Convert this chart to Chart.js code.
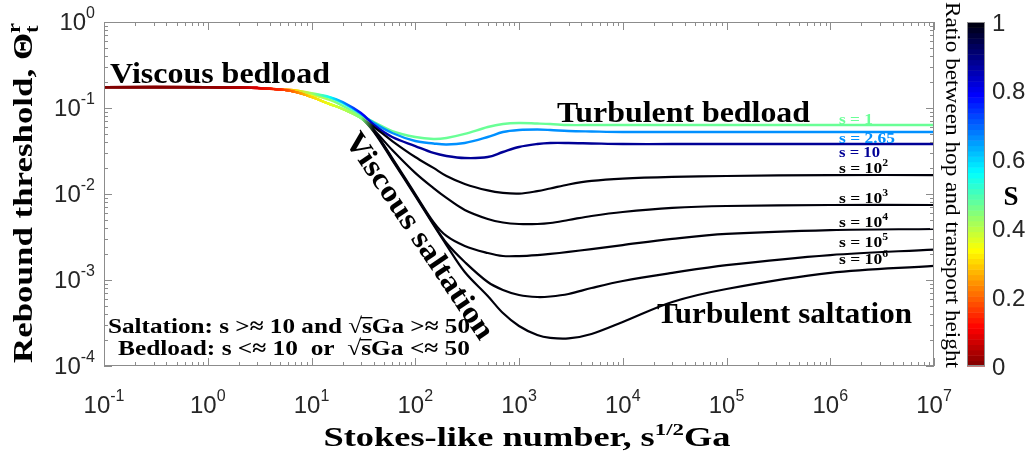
<!DOCTYPE html>
<html>
<head>
<meta charset="utf-8">
<script src="https://cdn.jsdelivr.net/npm/chart.js@4.4.1/dist/chart.umd.min.js"></script>
<style>
  html, body { margin: 0; padding: 0; background: #fff; }
  #wrap { width: 1031px; height: 456px; }
</style>
</head>
<body>
<div id="wrap"><canvas id="chart" width="1031" height="456"></canvas></div>
<script>
// Stokes-like number (x), shared by all curves
const stokesNumber = [0.1, 1, 2, 3, 5, 7, 10, 15, 20, 30, 40, 60, 100, 150, 200, 300, 500, 700,
  1000, 1500, 2000, 3000, 5000, 1e4, 3e4, 1e5, 1e6, 1e7];

// rebound threshold for each density ratio s
const thresholdS1 = [0.175, 0.175, 0.173, 0.171, 0.164, 0.158, 0.142, 0.124, 0.106, 0.0807, 0.0688, 0.0540,
  0.0460, 0.0436, 0.0448, 0.0499, 0.0601, 0.0652, 0.0669, 0.0660, 0.0652, 0.0634, 0.0634, 0.0634, 0.0634,
  0.0634, 0.0634, 0.0634];
const thresholdS265 = [0.175, 0.175, 0.173, 0.171, 0.164, 0.160, 0.147, 0.1325, 0.1143, 0.0852, 0.0669, 0.0512,
  0.0413, 0.0387, 0.0376, 0.0392, 0.0460, 0.0526, 0.0555, 0.0562, 0.0555, 0.0540, 0.0533, 0.0526, 0.0526,
  0.0526, 0.0526, 0.0526];
const thresholdS10 = [0.175, 0.175, 0.173, 0.171, 0.164, 0.160, 0.149, 0.134, 0.1174, 0.0875, 0.0634, 0.0460,
  0.0361, 0.0300, 0.0277, 0.0262, 0.0269, 0.0308, 0.0352, 0.0381, 0.0392, 0.0392, 0.0387, 0.0381, 0.0381,
  0.0381, 0.0381, 0.0381];
const thresholdS1e2 = [0.175, 0.175, 0.173, 0.171, 0.164, 0.1535, 0.134, 0.111, 0.0974, 0.0765, 0.0601, 0.0413,
  0.0269, 0.0201, 0.0162, 0.0131, 0.0110, 0.0103, 0.0101, 0.0108, 0.0116, 0.0129, 0.0142, 0.0151, 0.0158,
  0.0162, 0.0166, 0.0166];
const thresholdS1e3 = [0.175, 0.175, 0.173, 0.171, 0.164, 0.1535, 0.134, 0.111, 0.0974, 0.0765, 0.0555, 0.0325,
  0.0176, 0.0117, 0.0090, 0.00652, 0.00512, 0.00466, 0.00448, 0.00448, 0.00460, 0.00499, 0.00555, 0.00618,
  0.00688, 0.00725, 0.00745, 0.00745];
const thresholdS1e4 = [0.175, 0.175, 0.173, 0.171, 0.164, 0.1535, 0.134, 0.111, 0.0974, 0.0765, 0.0540, 0.0262,
  0.0100, 0.00472, 0.00325, 0.00249, 0.00206, 0.00190, 0.00190, 0.00195, 0.00201, 0.00212, 0.00229, 0.00255,
  0.00300, 0.00343, 0.00381, 0.00392];
const thresholdS1e5 = [0.175, 0.175, 0.173, 0.171, 0.164, 0.1535, 0.134, 0.111, 0.0974, 0.0765, 0.0540, 0.0255,
  0.00973, 0.00448, 0.00269, 0.00162, 0.000948, 0.000766, 0.000670, 0.000634, 0.000643, 0.000688, 0.000807,
  0.000974, 0.00121, 0.00149, 0.00195, 0.00226];
const thresholdS1e6 = [0.175, 0.175, 0.173, 0.171, 0.164, 0.1535, 0.134, 0.111, 0.0974, 0.0765, 0.0526, 0.0248,
  0.00948, 0.00436, 0.00255, 0.00124, 0.000652, 0.000413, 0.000292, 0.000229, 0.000212, 0.000209, 0.000236,
  0.000325, 0.000555, 0.000786, 0.00121, 0.00146];

// ratio between hop and transport height (colour of the curves)
const ratioS1 = [0, 0.01, 0.05, 0.1, 0.2, 0.28, 0.36, 0.43, 0.46, 0.47, 0.47, 0.47, 0.47, 0.47, 0.47, 0.47,
  0.47, 0.47, 0.47, 0.47, 0.47, 0.47, 0.47, 0.47, 0.47, 0.47, 0.47, 0.47];
const ratioS265 = [0, 0.01, 0.05, 0.1, 0.2, 0.3, 0.4, 0.5, 0.57, 0.63, 0.655, 0.66, 0.66, 0.66, 0.66, 0.66,
  0.66, 0.66, 0.66, 0.66, 0.66, 0.66, 0.66, 0.66, 0.66, 0.66, 0.66, 0.66];
const ratioS10 = [0, 0.01, 0.05, 0.1, 0.2, 0.3, 0.42, 0.56, 0.66, 0.78, 0.84, 0.87, 0.88, 0.88, 0.88, 0.88,
  0.88, 0.88, 0.88, 0.88, 0.88, 0.88, 0.88, 0.88, 0.88, 0.88, 0.88, 0.88];
const ratioSaltation = [0, 0.01, 0.04, 0.08, 0.15, 0.22, 0.3, 0.36, 0.4, 0.45, 1, 1, 1, 1, 1, 1,
  1, 1, 1, 1, 1, 1, 1, 1, 1, 1, 1, 1];

// tick labels
const xDecades = [-1, 0, 1, 2, 3, 4, 5, 6, 7];
const yDecades = [-4, -3, -2, -1, 0];
const colorbarTicks = [0, 0.2, 0.4, 0.6, 0.8, 1];
const colorbarLabels = ['0', '0.2', '0.4', '0.6', '0.8', '1'];

const SERIF = '"Liberation Serif", "Times New Roman", serif';
const SANS = '"Liberation Sans", Arial, sans-serif';
const GREY = '#8c8c8c';

// flipped jet going to black at the top
function cmap(t) {
  t = Math.max(0, Math.min(1, t));
  let r, g, b;
  if (t > 0.9) {
    const f = (t - 0.9) / 0.1;
    r = 0; g = 0; b = 0.5 * (1 - f) + 0.04 * f;
  } else {
    const u = 1 - t / 0.9;
    const c = v => Math.max(0, Math.min(1, v));
    r = c(1.5 - Math.abs(4 * u - 3));
    g = c(1.5 - Math.abs(4 * u - 2));
    b = c(1.5 - Math.abs(4 * u - 1));
  }
  return `rgb(${Math.round(r * 255)},${Math.round(g * 255)},${Math.round(b * 255)})`;
}

function gradientFor(ratios) {
  return function(context) {
    const chart = context.chart;
    const area = chart.chartArea;
    if (!area) return '#000';
    const xs = chart.scales.x;
    const grad = chart.ctx.createLinearGradient(area.left, 0, area.right, 0);
    stokesNumber.forEach((x, i) => {
      let f = (xs.getPixelForValue(x) - area.left) / (area.right - area.left);
      f = Math.max(0, Math.min(1, f));
      grad.addColorStop(f, cmap(ratios[i]));
    });
    return grad;
  };
}

function makeSet(label, values, ratios, width) {
  return {
    label: label,
    data: stokesNumber.map((x, i) => ({ x: x, y: values[i] })),
    borderColor: gradientFor(ratios),
    borderWidth: width,
    pointRadius: 0,
    fill: false,
    tension: 0.35
  };
}

// text with sub/superscripts: parts [{t, f, dy, back, over, c}]
function drawRich(ctx, parts, x, y, o) {
  o = o || {};
  ctx.save();
  const pos = [];
  let cx = 0, prev = 0;
  parts.forEach(p => {
    ctx.font = p.f;
    p.w = ctx.measureText(p.t).width;
    const start = p.back ? prev : cx;
    pos.push(start);
    cx = p.back ? Math.max(cx, start + p.w) : start + p.w;
    prev = start;
  });
  const total = cx;
  const sx = o.width ? o.width / total : 1;
  const al = o.align === 'center' ? 0.5 : (o.align === 'right' ? 1 : 0);
  ctx.translate(x, y);
  if (o.angle) ctx.rotate(o.angle * Math.PI / 180);
  ctx.scale(sx, 1);
  ctx.textAlign = 'left';
  ctx.textBaseline = 'alphabetic';
  parts.forEach((p, i) => {
    ctx.font = p.f;
    ctx.fillStyle = p.c || o.color || '#000';
    const px = pos[i] - total * al;
    ctx.fillText(p.t, px, p.dy || 0);
    if (p.over !== undefined) ctx.fillRect(px - 1, p.over, p.w + 1.5, 1.4);
  });
  ctx.restore();
}

const decorPlugin = {
  id: 'decor',
  afterDraw(chart) {
    const ctx = chart.ctx;
    const a = chart.chartArea;
    const xs = chart.scales.x, ys = chart.scales.y;

    // axes box and inward ticks
    ctx.save();
    ctx.strokeStyle = GREY;
    ctx.lineWidth = 1;
    ctx.strokeRect(Math.round(a.left) + 0.5, Math.round(a.top) + 0.5,
      Math.round(a.right - a.left) - 1, Math.round(a.bottom - a.top) - 1);
    ctx.beginPath();
    for (let e = xDecades[0]; e <= xDecades[xDecades.length - 1]; e++) {
      for (let m = 1; m <= 9; m++) {
        const v = m * Math.pow(10, e);
        if (v > 1e7 * 1.0001) break;
        const px = Math.round(xs.getPixelForValue(v)) + 0.5;
        const len = m === 1 ? 8 : 4;
        ctx.moveTo(px, a.bottom); ctx.lineTo(px, a.bottom - len);
        ctx.moveTo(px, a.top); ctx.lineTo(px, a.top + len);
      }
    }
    for (let e = yDecades[0]; e <= yDecades[yDecades.length - 1]; e++) {
      for (let m = 1; m <= 9; m++) {
        const v = m * Math.pow(10, e);
        if (v > 1.0001) break;
        const py = Math.round(ys.getPixelForValue(v)) + 0.5;
        const len = m === 1 ? 8 : 4;
        ctx.moveTo(a.left, py); ctx.lineTo(a.left + len, py);
        ctx.moveTo(a.right, py); ctx.lineTo(a.right - len, py);
      }
    }
    ctx.stroke();
    ctx.restore();

    // tick labels
    const big = '24px ' + SANS, small = '16px ' + SANS;
    xDecades.forEach(e => {
      const px = xs.getPixelForValue(Math.pow(10, e));
      drawRich(ctx, [{ t: '10', f: big }, { t: String(e), f: small, dy: -12 }], px, 413,
        { align: 'center', color: '#262626' });
    });
    yDecades.forEach(e => {
      const py = ys.getPixelForValue(Math.pow(10, e));
      drawRich(ctx, [{ t: '10', f: big }, { t: String(e), f: small, dy: -12 }], 95, py + 8,
        { align: 'right', color: '#262626' });
    });

    // axis titles
    drawRich(ctx, [
      { t: 'Stokes-like number, s', f: 'bold 27px ' + SERIF },
      { t: '1/2', f: 'bold 17px ' + SERIF, dy: -11 },
      { t: 'Ga', f: 'bold 27px ' + SERIF }
    ], 527, 446, { align: 'center', width: 407 });
    drawRich(ctx, [
      { t: 'Rebound threshold, ', f: 'bold 28px ' + SERIF },
      { t: 'Θ', f: 'bold 28px ' + SERIF },
      { t: 't', f: 'bold 18px ' + SERIF, dy: 6 },
      { t: 'r', f: 'bold 18px ' + SERIF, dy: -12, back: true }
    ], 32, 193, { align: 'center', angle: -90, width: 340 });

    // regime annotations
    const reg = 'bold 30px ' + SERIF;
    drawRich(ctx, [{ t: 'Viscous bedload', f: reg }], 110, 83, { width: 220 });
    drawRich(ctx, [{ t: 'Turbulent bedload', f: reg }], 557, 122, { width: 253 });
    drawRich(ctx, [{ t: 'Turbulent saltation', f: reg }], 657, 323, { width: 255 });
    drawRich(ctx, [{ t: 'Viscous saltation', f: reg }], 412, 241, { align: 'center', angle: 56, width: 243 });

    const nb = 'bold 22px ' + SERIF, nr = '22px ' + SERIF;
    drawRich(ctx, [
      { t: 'Saltation: s >≈ 10 and ', f: nb },
      { t: '√', f: nr },
      { t: 's', f: nb, over: -16 },
      { t: 'Ga >≈ 50', f: nb }
    ], 108, 333, { width: 362 });
    drawRich(ctx, [
      { t: 'Bedload: s <≈ 10  or  ', f: nb },
      { t: '√', f: nr },
      { t: 's', f: nb, over: -16 },
      { t: 'Ga <≈ 50', f: nb }
    ], 118, 355, { width: 352 });

    // curve labels
    const lb = 'bold 15px ' + SERIF, ls = 'bold 10px ' + SERIF;
    drawRich(ctx, [{ t: 's = 1', f: lb }], 839, 124, { width: 34, color: cmap(0.47) });
    drawRich(ctx, [{ t: 's = 2.65', f: lb }], 839, 143, { width: 56, color: cmap(0.66) });
    drawRich(ctx, [{ t: 's = 10', f: lb }], 839, 157, { width: 41, color: cmap(0.88) });
    [[2, 173], [3, 203], [4, 227], [5, 247], [6, 264]].forEach(([k, by]) => {
      drawRich(ctx, [{ t: 's = 10', f: lb }, { t: String(k), f: ls, dy: -7 }], 839, by, { width: 49 });
    });

    // colorbar
    const cbL = 967, cbR = 985;
    const n = 64;
    for (let k = 0; k < n; k++) {
      const y0 = a.bottom - (a.bottom - a.top) * k / n;
      const y1 = a.bottom - (a.bottom - a.top) * (k + 1) / n;
      ctx.fillStyle = cmap((k + 0.5) / n);
      ctx.fillRect(cbL, y1, cbR - cbL, y0 - y1 + 0.5);
    }
    ctx.strokeStyle = GREY;
    ctx.lineWidth = 1;
    ctx.strokeRect(cbL + 0.5, Math.round(a.top) + 0.5, cbR - cbL - 1, Math.round(a.bottom - a.top) - 1);
    colorbarTicks.forEach((t, i) => {
      const py = a.bottom - (a.bottom - a.top) * t;
      drawRich(ctx, [{ t: colorbarLabels[i], f: big }], 992, py + 8.5, { color: '#262626' });
    });
    drawRich(ctx, [{ t: 'S', f: 'bold 27px ' + SERIF }], 1011, 205, { align: 'center' });
    drawRich(ctx, [{ t: 'Ratio between hop and transport height', f: '20px ' + SERIF }], 946, 185,
      { align: 'center', angle: 90, width: 366 });
  }
};

new Chart(document.getElementById('chart'), {
  type: 'line',
  data: {
    datasets: [
      makeSet('s = 10^6', thresholdS1e6, ratioSaltation, 2.2),
      makeSet('s = 10^5', thresholdS1e5, ratioSaltation, 2.2),
      makeSet('s = 10^4', thresholdS1e4, ratioSaltation, 2.2),
      makeSet('s = 10^3', thresholdS1e3, ratioSaltation, 2.2),
      makeSet('s = 10^2', thresholdS1e2, ratioSaltation, 2.2),
      makeSet('s = 10', thresholdS10, ratioS10, 2.4),
      makeSet('s = 2.65', thresholdS265, ratioS265, 2.4),
      makeSet('s = 1', thresholdS1, ratioS1, 2.4)
    ]
  },
  options: {
    responsive: false,
    devicePixelRatio: 1,
    animation: false,
    layout: { padding: { left: 104, right: 97, top: 22, bottom: 90 } },
    scales: {
      x: {
        type: 'logarithmic', min: 0.1, max: 1e7,
        ticks: { display: false },
        grid: { display: false, drawTicks: false },
        border: { display: false }
      },
      y: {
        type: 'logarithmic', min: 1e-4, max: 1,
        ticks: { display: false },
        grid: { display: false, drawTicks: false },
        border: { display: false }
      }
    },
    plugins: {
      legend: { display: false },
      tooltip: { enabled: false }
    }
  },
  plugins: [decorPlugin]
});
</script>
</body>
</html>
